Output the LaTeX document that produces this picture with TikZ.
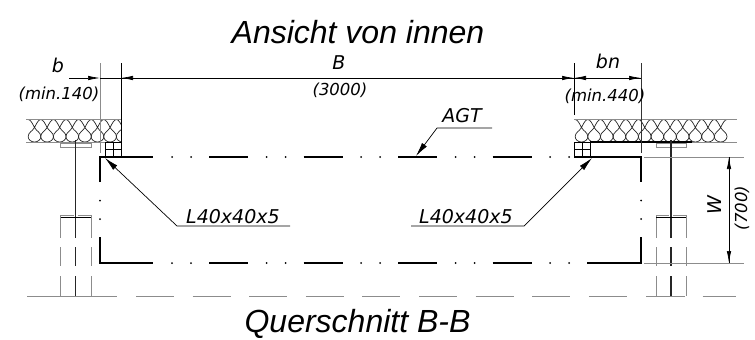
\documentclass[tikz,border=0pt]{standalone}
\usepackage{fontspec}
\setmainfont{Liberation Sans}
\newfontfamily\cadfont{DejaVu Sans}
\usetikzlibrary{arrows.meta,calc}
\tikzset{
  thick line/.style={line width=1.6pt,black},
  web line/.style={line width=1.4pt,black!85},
  gray line/.style={line width=0.9pt,black!45},
  dim arrow/.style={line width=0.7pt,black,-{Latex[length=12pt,width=4.5pt]}},
  lead arrow/.style={line width=0.7pt,black,-{Latex[length=14pt,width=6pt]}},
  lbl/.style={inner sep=0pt,font=\cadfont\itshape\fontsize{19}{19}\selectfont},
  small lbl/.style={inner sep=0pt,font=\cadfont\itshape\fontsize{16.5}{17}\selectfont},
  big lbl/.style={inner sep=0pt,anchor=base,font=\itshape\fontsize{32}{32}\selectfont},
}
\newcommand{\insulcell}[1]{%
  \draw[line width=0.7pt,black!85] (#1-6.35,119.5)
    .. controls (#1-4,119.5) and (#1-2,123.5) .. (#1,127.5)
    .. controls (#1+1.8,131) and (#1+6.35,132.5) .. (#1+6.35,136.5)
    .. controls (#1+6.35,139.5) and (#1+3.5,142) .. (#1,142)
    .. controls (#1-3.5,142) and (#1-6.35,139.5) .. (#1-6.35,136.5)
    .. controls (#1-6.35,132.5) and (#1-1.8,131) .. (#1,127.5)
    .. controls (#1+2,123.5) and (#1+4,119.5) .. (#1+6.35,119.5);
}
\begin{document}
\begin{tikzpicture}[x=1pt,y=-1pt]
\useasboundingbox (0,0) rectangle (755,340);
% titles
\node[big lbl] (title) at (358,43) {Ansicht von innen};
\node[big lbl] (sub) at (357.5,332) {Querschnitt B-B};
% insulation
\begin{scope}
\clip (26,118) rectangle (121.5,143);
\foreach \x in {34.5,47.1,...,125} {\insulcell{\x}}
\end{scope}
\begin{scope}
\clip (574,118) rectangle (737.5,143);
\foreach \x in {581.5,594.15,...,732} {\insulcell{\x}}
\end{scope}
\draw[gray line] (26,119) -- (121,119) (26,142) -- (121,142);
\draw[gray line] (574,119) -- (737,119) (574,142) -- (737,142);
\draw[black,line width=0.8pt] (121,115) -- (121,142);
\draw[black,line width=1.3pt] (590,142) -- (692,142);
% beams
\foreach \a/\b/\c in {60.5/75.5/91,656/671/686}{
  \draw[gray line,fill=white] (\a,143.5) rectangle (\c,147);
  \draw[web line] (\b,140) -- (\b,238) (\b,247) -- (\b,266) (\b,276) -- (\b,296);
  \draw[gray line] (\a,215) -- (\a,238) (\a,247) -- (\a,266) (\a,276) -- (\a,296);
  \draw[gray line] (\c,215) -- (\c,238) (\c,247) -- (\c,266) (\c,276) -- (\c,296);
  \draw[gray line] (\a,215) -- (\b-2,215) (\b+2,215) -- (\c,215);
  \draw[black,line width=0.9pt] (\a,217) -- (\c,217);
}
% ground line
\draw[gray line] (27,296) -- (117,296);
\foreach \x in {136,192.6,...,590} {\draw[gray line] (\x,296) -- (\x+38,296);}
\draw[gray line] (646,296) -- (685,296) (702.6,296) -- (736,296);
% angles
\foreach \x in {105.5,574.5}{
  \draw[black,line width=1.3pt] (\x,142.5) rectangle (\x+16,157);
  \draw[black,line width=0.7pt] (\x+8,142.5) -- (\x+8,157) (\x,149.7) -- (\x+16,149.7);
}
% openings
\foreach \y in {157,263}{
  \foreach \x in {209,303.6,398,492.5}{\draw[thick line] (\x,\y) -- (\x+39,\y);}
  \foreach \x in {172,191,266.5,285.5,361,380,455.5,474.5,550,569}{\fill (\x,\y) circle (1);}
}
\draw[thick line] (100,182) -- (100,157) -- (153,157);
\draw[thick line] (100,237) -- (100,263) -- (153,263);
\draw[thick line] (587,157) -- (641,157) -- (641,182);
\draw[thick line] (587,263) -- (641,263) -- (641,237);
\foreach \x in {100,641}\foreach \y in {200.5,219}{\fill (\x,\y) circle (1);}
% extension lines
\draw[gray line,line width=1pt] (100,63) -- (100,153);
\draw[black,line width=0.9pt] (121,63) -- (121,115);
\draw[black,line width=0.9pt] (574,63) -- (574,115);
\draw[black!80,line width=0.8pt] (641,63) -- (641,153);
\draw[gray line] (644,157) -- (744,157) (644,263) -- (744,263);
% dimension coordinates
\coordinate (b0) at (69,78);
\coordinate (b1) at (100,78);
\coordinate (b2) at (121,78);
\coordinate (b3) at (574,78);
\coordinate (b4) at (641,78);
\coordinate (w0) at (729,157);
\coordinate (w1) at (729,263);
\draw[dim arrow] (b0) -- (b1);
\draw[black,line width=0.7pt] (b1) -- (b2);
\draw[dim arrow] (b3) -- (b2);
\draw[dim arrow] (b2) -- (b3);
\draw[dim arrow] (b4) -- (b3);
\draw[dim arrow] (b3) -- (b4);
\draw[dim arrow] (w1) -- (w0);
\draw[dim arrow] (w0) -- (w1);
% leaders
\coordinate (l1) at (105,158);
\coordinate (l1a) at (177,226);
\coordinate (l1b) at (290,226);
\coordinate (l2) at (592,158);
\coordinate (l2a) at (524,226);
\coordinate (l2b) at (411,226);
\coordinate (a0) at (416,156);
\coordinate (a1) at (437,128);
\coordinate (a2) at (492,128);
\draw[lead arrow] (l1b) -- (l1a) -- (l1);
\draw[lead arrow] (l2b) -- (l2a) -- (l2);
\draw[lead arrow] (a2) -- (a1) -- (a0);
% labels
\node[lbl] (lb) at (58,65) {b};
\node[small lbl] (lm1) at (59,94) {(min.140)};
\node[lbl] (lB) at (339,63) {B};
\node[small lbl] (l3000) at (340,90) {(3000)};
\node[lbl] (lbn) at (608,61) {bn};
\node[small lbl] (lm2) at (605,96) {(min.440)};
\node[lbl] (lagt) at (462,116) {AGT};
\node[lbl] (ll1) at (233,217) {L40x40x5};
\node[lbl] (ll2) at (466,217) {L40x40x5};
\node[lbl,rotate=90] (lw) at (715,205) {W};
\node[small lbl,rotate=90] (l700) at (742,208) {(700)};
\end{tikzpicture}
\end{document}
